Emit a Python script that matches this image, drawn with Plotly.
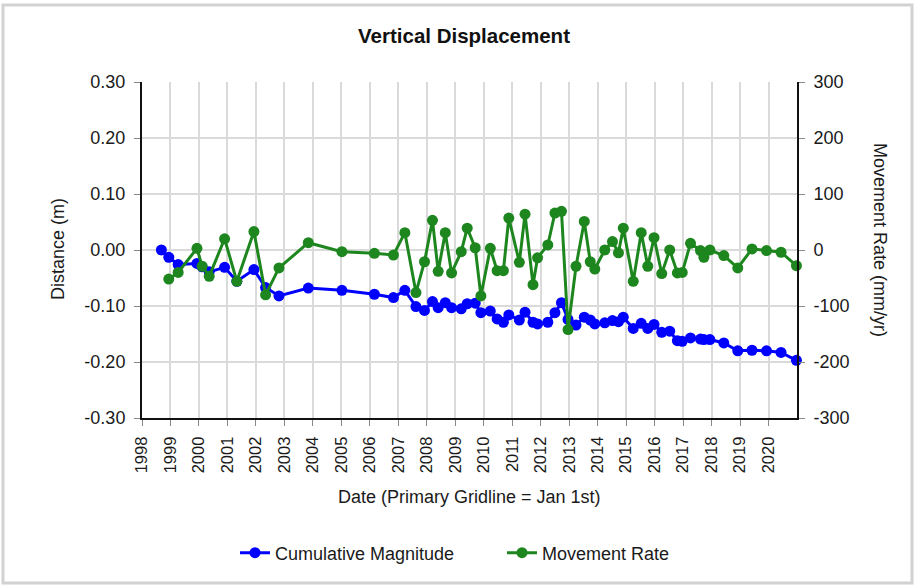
import plotly.graph_objects as go

# Decimal-year dates
disp_years = [1998.68, 1998.94, 1999.27, 1999.93, 2000.11, 2000.36, 2000.90, 2001.33, 2001.93,
              2002.34, 2002.81, 2003.84, 2005.02, 2006.16, 2006.83, 2007.23, 2007.62, 2007.92,
              2008.20, 2008.40, 2008.65, 2008.87, 2009.21, 2009.42, 2009.70, 2009.90, 2010.23,
              2010.47, 2010.69, 2010.88, 2011.25, 2011.45, 2011.73, 2011.89, 2012.25, 2012.50,
              2012.73, 2012.96, 2013.24, 2013.53, 2013.74, 2013.90, 2014.25, 2014.52, 2014.73,
              2014.90, 2015.25, 2015.53, 2015.76, 2015.98, 2016.25, 2016.53, 2016.80, 2016.97,
              2017.26, 2017.61, 2017.73, 2017.94, 2018.43, 2018.92, 2019.42, 2019.93, 2020.44,
              2020.98]

cumulative_m = [0.000, -0.013, -0.026, -0.024, -0.030, -0.039, -0.031, -0.056, -0.035,
                -0.067, -0.082, -0.068, -0.072, -0.079, -0.085, -0.072, -0.101, -0.108,
                -0.092, -0.103, -0.094, -0.103, -0.105, -0.096, -0.095, -0.112, -0.109,
                -0.123, -0.129, -0.116, -0.125, -0.111, -0.129, -0.132, -0.129, -0.112,
                -0.094, -0.124, -0.134, -0.120, -0.125, -0.132, -0.130, -0.126, -0.128,
                -0.120, -0.140, -0.131, -0.140, -0.133, -0.147, -0.145, -0.162, -0.163,
                -0.157, -0.159, -0.160, -0.160, -0.166, -0.180, -0.179, -0.180, -0.183,
                -0.197]

rate_years = disp_years[1:]
rate_mm_yr = [-52, -40, 3, -29, -47, 20, -56, 33,
              -80, -32, 13, -3, -6, -9, 31, -76, -21,
              53, -38, 31, -41, -3, 39, 4, -82, 3,
              -37, -37, 57, -22, 64, -62, -14, 9, 66,
              69, -142, -29, 51, -21, -34, 0, 15, -5,
              39, -56, 31, -29, 22, -42, 0, -41, -40,
              12, -1, -13, 0, -10, -32, 2, -1, -4,
              -28]

year_ticks = list(range(1998, 2021))
left_ticks = [0.30, 0.20, 0.10, 0.00, -0.10, -0.20, -0.30]
right_ticks = [300, 200, 100, 0, -100, -200, -300]

FONT = "Liberation Sans, Arial, sans-serif"
GRID = "#dadada"
BLUE = "#0000ff"
GREEN = "#1e861e"

# plot-area pixel box of the reference
PL, PR, PT, PB = 142, 797, 82, 418
PW, PH = PR - PL, PB - PT


def px(xp):
    return (xp - PL) / PW


def py(yp):
    return (PB - yp) / PH


fig = go.Figure()
fig.add_trace(go.Scatter(
    x=disp_years, y=cumulative_m, name="Cumulative Magnitude",
    mode="lines+markers", line=dict(color=BLUE, width=3),
    marker=dict(color=BLUE, size=11), cliponaxis=False, yaxis="y"))
fig.add_trace(go.Scatter(
    x=rate_years, y=rate_mm_yr, name="Movement Rate",
    mode="lines+markers", line=dict(color=GREEN, width=3),
    marker=dict(color=GREEN, size=11), cliponaxis=False, yaxis="y2"))

fig.update_layout(
    width=918, height=586,
    margin=dict(l=PL, r=918 - PR, t=PT, b=586 - PB, autoexpand=False),
    paper_bgcolor="white", plot_bgcolor="white",
    font=dict(family=FONT, size=18, color="#1a1a1a"),
    title=dict(text="<b>Vertical Displacement</b>", x=464 / 918, xanchor="center",
               xref="container", y=1 - 36 / 586, yanchor="middle",
               font=dict(family=FONT, size=20.5, color="#111")),
    xaxis=dict(range=[1998, 2021], tickmode="array", tickvals=year_ticks,
               ticktext=[str(y) for y in year_ticks], tickangle=-90,
               showgrid=True, gridcolor=GRID, gridwidth=2,
               showline=True, linecolor="#111", linewidth=2,
               ticks="outside", ticklen=6, tickcolor="#888", ticklabelstandoff=4,
               zeroline=False, tickfont=dict(size=16.5)),
    yaxis=dict(range=[-0.30, 0.30], tickmode="array", tickvals=left_ticks,
               ticktext=[f"{v:.2f}" for v in left_ticks],
               showgrid=True, gridcolor=GRID, gridwidth=2,
               showline=True, linecolor="#111", linewidth=2,
               ticks="outside", ticklen=6, tickcolor="#888", ticklabelstandoff=5,
               zeroline=False, tickfont=dict(size=18)),
    yaxis2=dict(range=[-300, 300], tickmode="array", tickvals=right_ticks,
                ticktext=[str(v) for v in right_ticks],
                overlaying="y", side="right", showgrid=False,
                showline=True, linecolor="#111", linewidth=2,
                ticks="outside", ticklen=6, tickcolor="#888", ticklabelstandoff=5,
                zeroline=False, tickfont=dict(size=18)),
    legend=dict(orientation="h", x=px(235), xanchor="left", y=py(553),
                yanchor="middle", font=dict(size=18),
                entrywidth=222, entrywidthmode="pixels",
                bgcolor="rgba(0,0,0,0)"),
    showlegend=True,
)

fig.add_annotation(text="Distance (m)", xref="paper", yref="paper",
                   x=px(58), y=py(249), showarrow=False,
                   textangle=-90, font=dict(size=18), xanchor="center", yanchor="middle")
fig.add_annotation(text="Movement Rate (mm/yr)", xref="paper", yref="paper",
                   x=px(880), y=py(240), showarrow=False,
                   textangle=90, font=dict(size=18), xanchor="center", yanchor="middle")
fig.add_annotation(text="Date (Primary Gridline = Jan 1st)", xref="paper", yref="paper",
                   x=px(469.5), y=py(497), showarrow=False,
                   font=dict(size=18), xanchor="center", yanchor="middle")

# outer light-gray frame
fig.add_shape(type="rect", xref="paper", yref="paper",
              x0=px(3), x1=px(912), y0=py(583), y1=py(5),
              line=dict(color="#d2d2d2", width=3), fillcolor="rgba(0,0,0,0)",
              layer="above")

fig.write_html("out.html", config={"displayModeBar": False},
               post_script="document.body.style.margin='0';document.body.style.padding='0';")
